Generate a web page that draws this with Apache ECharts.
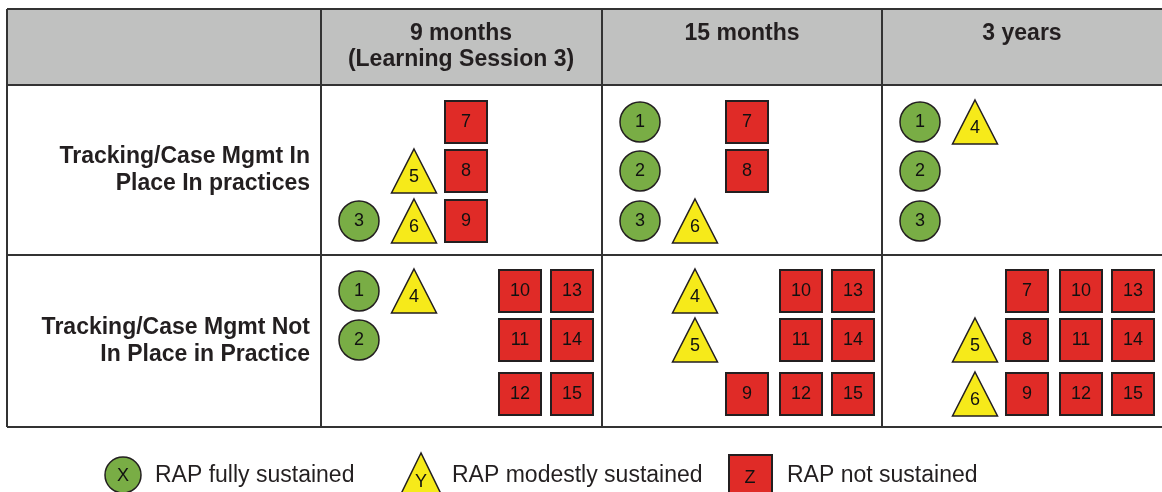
<!DOCTYPE html>
<html>
<head>
<meta charset="utf-8">
<script src="https://cdn.jsdelivr.net/npm/echarts@6/dist/echarts.min.js"></script>
<style>
  html, body {margin: 0; padding: 0; background: #fff;}
  #chart {width: 1162px; height: 492px;}
</style>
</head>
<body>
<div id="chart"></div>
<script>
const periods = ['9 months\n(Learning Session 3)', '15 months', '3 years'];
const practiceStatus = ['Tracking/Case Mgmt In\nPlace In practices', 'Tracking/Case Mgmt Not\nIn Place in Practice'];
const legendNames = ['RAP fully sustained', 'RAP modestly sustained', 'RAP not sustained'];
const legendKeys = ['X', 'Y', 'Z'];

// [period, status, slot column, slot row, practice number]
const fullySustained = [
  [0, 0, 0, 2, 3],
  [0, 1, 0, 0, 1], [0, 1, 0, 1, 2],
  [1, 0, 0, 0, 1], [1, 0, 0, 1, 2], [1, 0, 0, 2, 3],
  [2, 0, 0, 0, 1], [2, 0, 0, 1, 2], [2, 0, 0, 2, 3]
];
const modestlySustained = [
  [0, 0, 1, 1, 5], [0, 0, 1, 2, 6],
  [0, 1, 1, 0, 4],
  [1, 0, 1, 2, 6],
  [1, 1, 1, 0, 4], [1, 1, 1, 1, 5],
  [2, 0, 1, 0, 4],
  [2, 1, 1, 1, 5], [2, 1, 1, 2, 6]
];
const notSustained = [
  [0, 0, 2, 0, 7], [0, 0, 2, 1, 8], [0, 0, 2, 2, 9],
  [0, 1, 3, 0, 10], [0, 1, 3, 1, 11], [0, 1, 3, 2, 12],
  [0, 1, 4, 0, 13], [0, 1, 4, 1, 14], [0, 1, 4, 2, 15],
  [1, 0, 2, 0, 7], [1, 0, 2, 1, 8],
  [1, 1, 2, 2, 9],
  [1, 1, 3, 0, 10], [1, 1, 3, 1, 11], [1, 1, 3, 2, 12],
  [1, 1, 4, 0, 13], [1, 1, 4, 1, 14], [1, 1, 4, 2, 15],
  [2, 1, 2, 0, 7], [2, 1, 2, 1, 8], [2, 1, 2, 2, 9],
  [2, 1, 3, 0, 10], [2, 1, 3, 1, 11], [2, 1, 3, 2, 12],
  [2, 1, 4, 0, 13], [2, 1, 4, 1, 14], [2, 1, 4, 2, 15]
];

// table layout (pixels)
const colLeft = [321, 602, 882];
const rowTop = [85, 255];
const slotX = [38, 93, 145, 199, 251];
const slotY = [[37, 86, 136], [36, 85, 139]];

const GREEN = '#79ad45';
const YELLOW = '#f6ea1a';
const RED = '#e02b27';
const EDGE = '#231f20';
const LINE = '#333333';
const FONT = '"Liberation Sans", Arial, sans-serif';

const toPoint = d => ({
  value: [colLeft[d[0]] + slotX[d[2]], rowTop[d[1]] + slotY[d[1]][d[3]]],
  name: String(d[4])
});

const chart = echarts.init(document.getElementById('chart'));

const lines = [
  [7, 9, 1162, 9], [7, 85, 1162, 85], [7, 255, 1162, 255], [7, 427, 1162, 427],
  [7, 9, 7, 427], [321, 9, 321, 427], [602, 9, 602, 427], [882, 9, 882, 427]
];

const graphic = [
  {type: 'rect', z: -1, shape: {x: 7, y: 9, width: 1155, height: 76}, style: {fill: '#c0c1c0'}},
  ...lines.map(l => ({
    type: 'line', z: 0,
    shape: {x1: l[0], y1: l[1], x2: l[2], y2: l[3]},
    style: {stroke: LINE, lineWidth: 2}
  })),
  ...periods.map((p, i) => ({
    type: 'text', z: 1,
    x: colLeft[i] + 140, y: 21,
    style: {
      text: p, fill: '#231f20', fontFamily: FONT, fontWeight: 'bold', fontSize: 23,
      lineHeight: 26, align: 'center', verticalAlign: 'top'
    }
  })),
  ...practiceStatus.map((s, i) => ({
    type: 'text', z: 1,
    x: 310, y: i === 0 ? 143 : 314,
    style: {
      text: s, fill: '#231f20', fontFamily: FONT, fontWeight: 'bold', fontSize: 23,
      lineHeight: 27, align: 'right', verticalAlign: 'top'
    }
  })),
  // legend
  {type: 'circle', shape: {cx: 123, cy: 475, r: 18}, style: {fill: GREEN, stroke: EDGE, lineWidth: 1.5}},
  {type: 'text', x: 123, y: 476, style: {text: legendKeys[0], fill: '#111', fontFamily: FONT, fontSize: 18, align: 'center', verticalAlign: 'middle'}},
  {type: 'text', x: 155, y: 476, style: {text: legendNames[0], fill: '#231f20', fontFamily: FONT, fontSize: 23, align: 'left', verticalAlign: 'middle'}},
  {type: 'polygon', shape: {points: [[421, 453], [399, 498], [443, 498]]}, style: {fill: YELLOW, stroke: EDGE, lineWidth: 1.5}},
  {type: 'text', x: 421, y: 482, style: {text: legendKeys[1], fill: '#111', fontFamily: FONT, fontSize: 18, align: 'center', verticalAlign: 'middle'}},
  {type: 'text', x: 452, y: 476, style: {text: legendNames[1], fill: '#231f20', fontFamily: FONT, fontSize: 23, align: 'left', verticalAlign: 'middle'}},
  {type: 'rect', shape: {x: 729, y: 455, width: 43, height: 43}, style: {fill: RED, stroke: EDGE, lineWidth: 2}},
  {type: 'text', x: 750, y: 478, style: {text: legendKeys[2], fill: '#111', fontFamily: FONT, fontSize: 18, align: 'center', verticalAlign: 'middle'}},
  {type: 'text', x: 787, y: 476, style: {text: legendNames[2], fill: '#231f20', fontFamily: FONT, fontSize: 23, align: 'left', verticalAlign: 'middle'}}
];

const markLabel = {
  show: true,
  position: 'inside',
  formatter: '{b}',
  color: '#111',
  fontFamily: FONT,
  fontSize: 18
};

chart.setOption({
  animation: false,
  backgroundColor: '#fff',
  grid: {left: 0, right: 0, top: 0, bottom: 0},
  xAxis: {type: 'value', min: 0, max: 1162, show: false},
  yAxis: {type: 'value', min: 0, max: 492, inverse: true, show: false},
  graphic: graphic,
  series: [
    {
      name: legendNames[0],
      type: 'scatter',
      symbol: 'circle',
      symbolSize: 40,
      itemStyle: {color: GREEN, borderColor: EDGE, borderWidth: 1.5, opacity: 1},
      label: markLabel,
      data: fullySustained.map(toPoint)
    },
    {
      name: legendNames[1],
      type: 'scatter',
      symbol: 'triangle',
      symbolSize: [45, 44],
      itemStyle: {color: YELLOW, borderColor: EDGE, borderWidth: 1.5, opacity: 1},
      label: {...markLabel, offset: [0, 6]},
      data: modestlySustained.map(toPoint)
    },
    {
      name: legendNames[2],
      type: 'scatter',
      symbol: 'rect',
      symbolSize: 42,
      itemStyle: {color: RED, borderColor: EDGE, borderWidth: 2, opacity: 1},
      label: markLabel,
      data: notSustained.map(toPoint)
    }
  ]
});
</script>
</body>
</html>
